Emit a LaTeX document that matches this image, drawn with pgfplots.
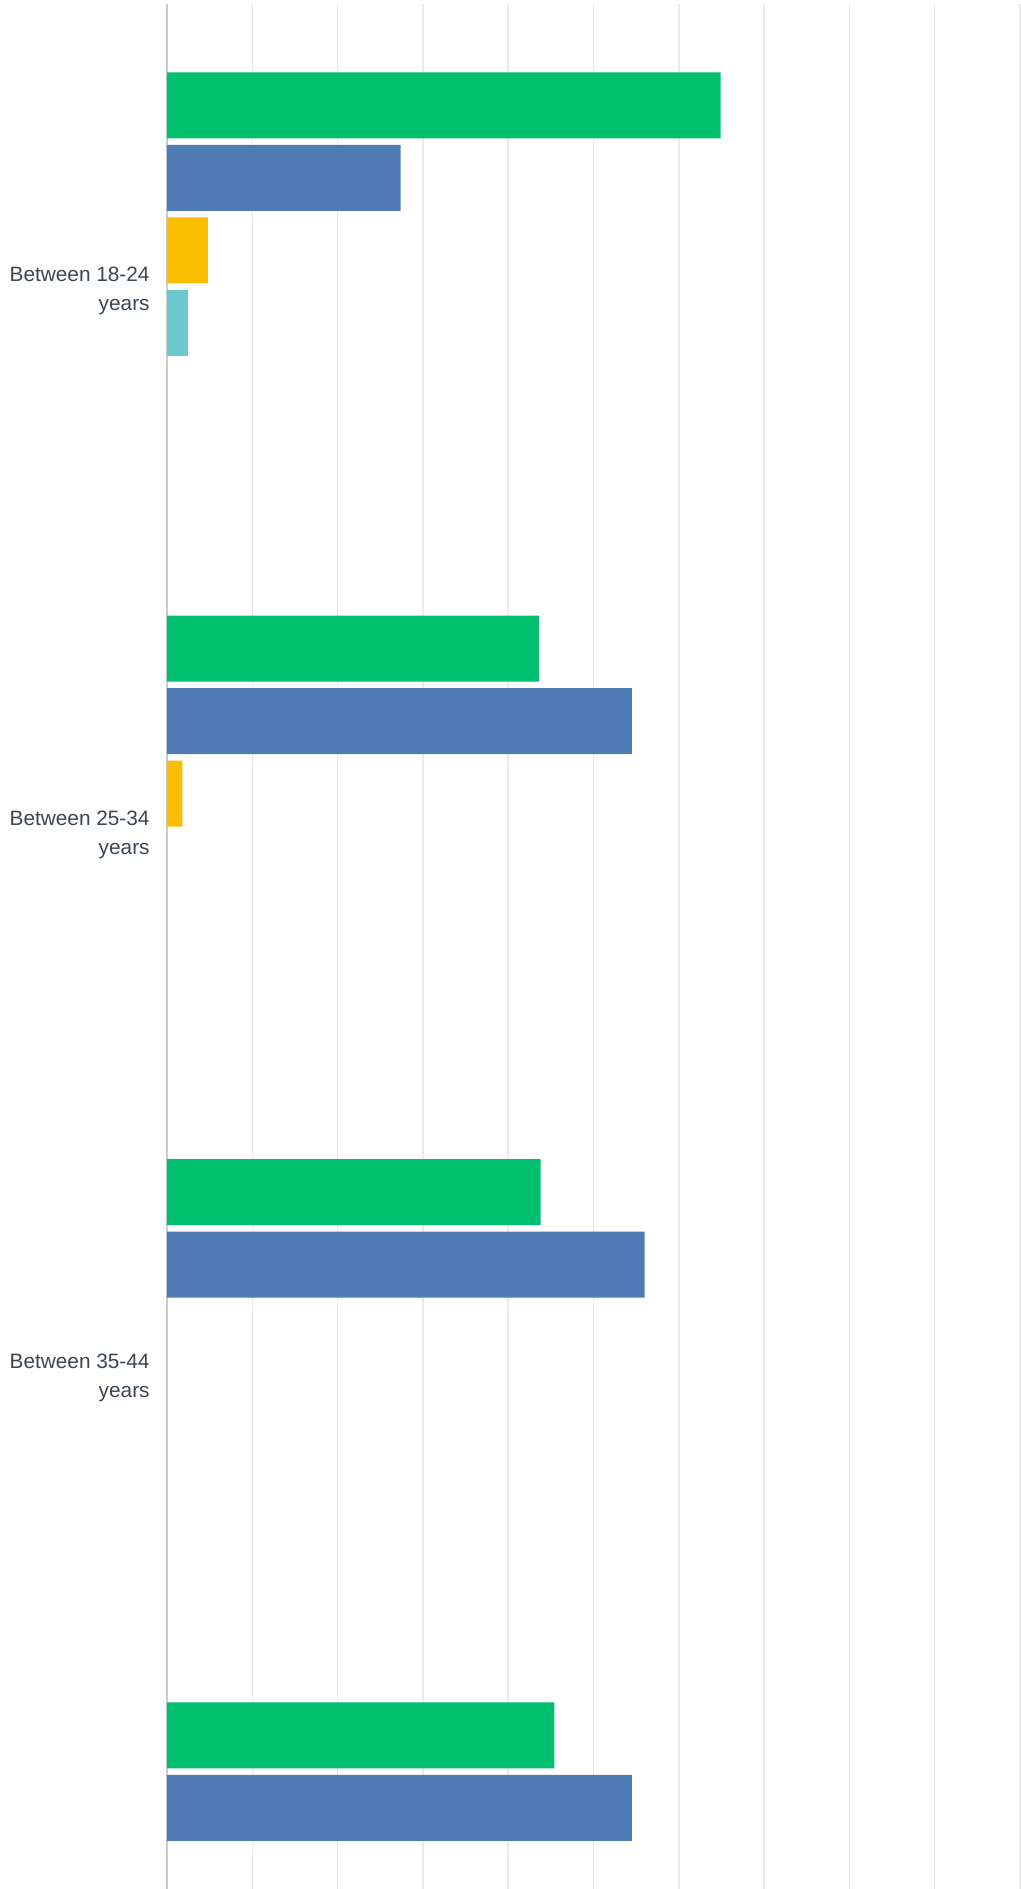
\documentclass[border=0pt]{standalone}
\usepackage{pgfplots}
\pgfplotsset{compat=1.18}
\usepackage{fontspec}
\setmainfont{Liberation Sans}
\definecolor{smgreen}{HTML}{00BF6F}
\definecolor{smblue}{HTML}{507CB6}
\definecolor{smyellow}{HTML}{F9BE00}
\definecolor{smteal}{HTML}{6BC8CD}
\definecolor{labelcol}{HTML}{3B4650}
\definecolor{gridcol}{HTML}{EBEBEB}
\definecolor{axiscol}{HTML}{CCCCCC}
\begin{document}
\begin{tikzpicture}
\begin{axis}[
  scale only axis,
  width=426.5pt, height=942.5pt,
  xbar, bar width=33pt,
  xmin=0, xmax=100,
  xtick={0,10,...,100}, xticklabels={},
  xmajorgrids, major grid style={gridcol, line width=0.75pt},
  axis lines*=left,
  x axis line style={draw=none},
  y axis line style={axiscol, line width=1pt},
  y dir=reverse,
  ymin=-0.5199, ymax=2.949,
  ytick={0,1,2,3},
  yticklabels={{Between 18-24\\years},{Between 25-34\\years},{Between 35-44\\years},{Between 45-54\\years}},
  major tick length=0pt,
  tick style={draw=none},
  yticklabel style={align=right, anchor=east, inner sep=0pt, xshift=-8.5pt, yshift=-2.4pt, text=labelcol, font=\fontsize{10.4}{14.5}\selectfont},
  clip=true,
]
\addplot[fill=smgreen, draw=none, bar shift=90.625pt] coordinates {(64.9,0) (43.6,1) (43.8,2) (45.4,3)};
\addplot[fill=smblue, draw=none, bar shift=54.375pt] coordinates {(27.4,0) (54.5,1) (56.0,2) (54.5,3)};
\addplot[fill=smyellow, draw=none, bar shift=18.125pt] coordinates {(4.8,0) (1.8,1)};
\addplot[fill=smteal, draw=none, bar shift=-18.125pt] coordinates {(2.5,0)};
\end{axis}
\pgfresetboundingbox
\path[use as bounding box] ([xshift=-83.5pt]current axis.south west) rectangle ([xshift=0.5pt,yshift=2pt]current axis.north east);
\end{tikzpicture}
\end{document}
